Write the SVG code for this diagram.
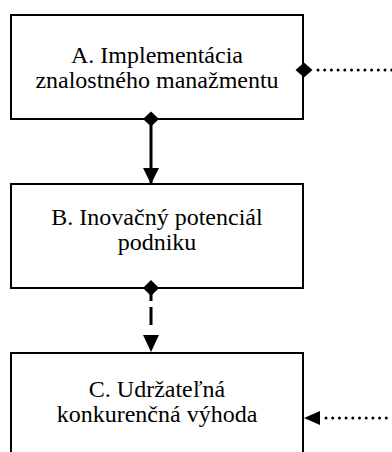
<svg xmlns="http://www.w3.org/2000/svg" width="392" height="452" viewBox="0 0 392 452">
<style>
.box{fill:#fff;stroke:#000;stroke-width:2}
.lbl{font-family:'Times New Roman','Liberation Serif',Times,serif;font-size:24px;fill:#000;text-anchor:middle}
.solid{stroke:#000;stroke-width:3;fill:none}
.dash{stroke:#000;stroke-width:3;fill:none;stroke-dasharray:13 6 18 10}
.dot{stroke:#000;stroke-width:3;fill:none;stroke-linecap:round;stroke-dasharray:0 6.7}
</style>
<defs>
<marker id="arr" markerUnits="userSpaceOnUse" markerWidth="16" markerHeight="16" refX="16" refY="8" orient="auto" viewBox="0 0 16 16">
<path d="M0,0 L16,8 L0,16 Z" fill="#000"/>
</marker>
</defs>
<g id="nodeA">
<rect class="box" x="11" y="15" width="292" height="104"/>
<text class="lbl" x="157" y="63">A. Implementácia</text>
<text class="lbl" x="157" y="88">znalostného manažmentu</text>
</g>
<g id="nodeB">
<rect class="box" x="11" y="184" width="292" height="104"/>
<text class="lbl" x="157" y="225">B. Inovačný potenciál</text>
<text class="lbl" x="157" y="250">podniku</text>
</g>
<g id="nodeC">
<rect class="box" x="11" y="353" width="292" height="120"/>
<text class="lbl" x="157" y="397">C. Udržateľná</text>
<text class="lbl" x="157" y="422">konkurenčná výhoda</text>
</g>
<g id="connectors">
<line class="solid" x1="151" y1="119" x2="151" y2="184" marker-end="url(#arr)"/>
<path d="M143,119 L151,111.5 L159,119 L151,126.5 Z" fill="#000"/>
<line class="dash" x1="151" y1="288" x2="151" y2="336"/>
<path d="M143,288 L151,280 L159,288 L151,296 Z" fill="#000"/>
<path d="M143,335 L159,335 L151,352 Z" fill="#000"/>
<line class="dot" x1="318" y1="70" x2="392" y2="70"/>
<path d="M295.5,70 L304,62.5 L312.5,70 L304,77.5 Z" fill="#000"/>
<line class="dot" x1="326" y1="418" x2="392" y2="418"/>
<path d="M304,418 L320,411 L320,425 Z" fill="#000"/>
</g>
</svg>
